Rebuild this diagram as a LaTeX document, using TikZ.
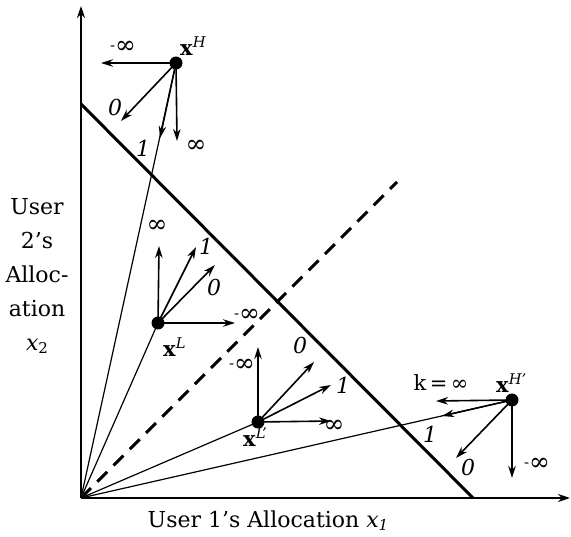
\documentclass[tikz,border=0pt]{standalone}
\usepackage{fontspec}
\setmainfont{DejaVu Serif}
\usetikzlibrary{arrows.meta}
\newcommand{\mneg}{\raisebox{3pt}{\fontsize{15}{15}\selectfont -}}
\begin{document}
\begin{tikzpicture}[x=1pt,y=-1pt,
  axis/.style={line width=1.8pt,-{Stealth[length=12pt,width=8pt]}},
  vec/.style={line width=1.6pt,-{Stealth[length=12pt,width=7.5pt]}},
  ray/.style={line width=1.2pt},
  budget/.style={line width=3pt},
  diag/.style={line width=3pt,dash pattern=on 14pt off 9pt},
  pt/.style={circle,fill,inner sep=0pt,minimum size=13pt},
  lab/.style={font=\fontsize{21}{23}\selectfont,inner sep=1pt},
  num/.style={font=\fontsize{22}{24}\selectfont\itshape,inner sep=1pt},
  sym/.style={font=\fontsize{25}{27}\selectfont,inner sep=1pt},
  big/.style={font=\fontsize{22}{34}\selectfont,inner sep=0pt,align=center}
]
\useasboundingbox (0,0) rectangle (571,537);
% axes
\coordinate (O) at (81,498);
\coordinate (Ytop) at (81,6);
\coordinate (Xend) at (570,498);
\draw[axis] (O) -- (Ytop);
\draw[axis] (O) -- (Xend);
% budget line and diagonal
\coordinate (B1) at (81,104);
\coordinate (B2) at (473,498);
\draw[budget] (B1) -- (B2);
\coordinate (D2) at (397,182);
\draw[diag] (O) -- (D2);
% points
\node[pt] (H) at (176,63) {};
\node[pt] (L) at (158,323) {};
\node[pt] (Lp) at (258,422) {};
\node[pt] (Hp) at (512,400) {};
% rays
\draw[ray] (O) -- (H.center);
\draw[ray] (O) -- (L.center);
\draw[ray] (O) -- (Lp.center);
\draw[ray] (O) -- (Hp.center);
% vectors at H
\coordinate (Hm) at (101,63);
\coordinate (H0) at (121,121);
\coordinate (H1) at (160,138);
\coordinate (Hi) at (177,141);
\draw[vec] (H.center) -- (Hm);
\draw[vec] (H.center) -- (H0);
\draw[vec] (H.center) -- (H1);
\draw[vec] (H.center) -- (Hi);
\node[sym] (tHm) at (123,47) {\mneg∞};
\node[num] (tH0) at (115,107) {0};
\node[num] (tH1) at (143,148) {1};
\node[sym] (tHi) at (196,146) {∞};
\node[lab,anchor=west] (tH) at (179,46) {\textbf{x}\textsuperscript{\textit{H}}};
% vectors at L
\coordinate (Li) at (159,246);
\coordinate (L1) at (196,247);
\coordinate (L0) at (215,265);
\coordinate (Lm) at (235,323);
\draw[vec] (L.center) -- (Li);
\draw[vec] (L.center) -- (L1);
\draw[vec] (L.center) -- (L0);
\draw[vec] (L.center) -- (Lm);
\node[sym] (tLi) at (157,226) {∞};
\node[num] (tL1) at (206,246) {1};
\node[num] (tL0) at (214,287) {0};
\node[sym] (tLm) at (247,315) {\mneg∞};
\node[lab,anchor=west] (tL) at (162,347) {\textbf{x}\textsuperscript{\textit{L}}};
% vectors at L'
\coordinate (Lpm) at (258,347);
\coordinate (Lp0) at (314,362);
\coordinate (Lp1) at (331,385);
\coordinate (Lpi) at (331,421);
\draw[vec] (Lp.center) -- (Lpm);
\draw[vec] (Lp.center) -- (Lp0);
\draw[vec] (Lp.center) -- (Lp1);
\draw[vec] (Lp.center) -- (Lpi);
\node[sym] (tLpm) at (242,365) {\mneg∞};
\node[num] (tLp0) at (300,345) {0};
\node[num] (tLp1) at (343,385) {1};
\node[sym] (tLpi) at (334,426) {∞};
\node[lab,anchor=west] (tLp) at (242,437) {\textbf{x}\textsuperscript{\textit{L'}}};
% vectors at H'
\coordinate (Hpk) at (436,401);
\coordinate (Hp1) at (442,416);
\coordinate (Hp0) at (456,458);
\coordinate (Hpm) at (512,478);
\draw[vec] (Hp.center) -- (Hpk);
\draw[vec] (Hp.center) -- (Hp1);
\draw[vec] (Hp.center) -- (Hp0);
\draw[vec] (Hp.center) -- (Hpm);
\node[lab] (tHpk) at (441,383) {k\,=\,∞};
\node[num] (tHp1) at (430,434) {1};
\node[num] (tHp0) at (468,467) {0};
\node[sym] (tHpm) at (537,464) {\mneg∞};
\node[lab,anchor=west] (tHp) at (495,383) {\textbf{x}\textsuperscript{\textit{H'}}};
% axis labels
\node[big] (xl) at (268,521) {User 1's Allocation \textit{x}\raisebox{-3pt}{\fontsize{15}{15}\selectfont\textit{1}}};
\node[big] (yl) at (37,276) {User\\2's\\Alloc-\\ation\\\textit{x}\raisebox{-3pt}{\fontsize{15}{15}\selectfont 2}};
\end{tikzpicture}
\end{document}
